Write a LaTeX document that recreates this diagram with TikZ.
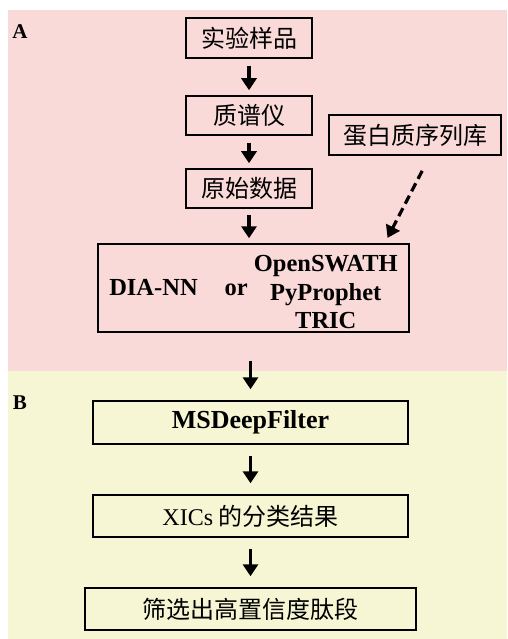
\documentclass[tikz,border=0pt]{standalone}
\usepackage{fontspec}
\setmainfont{Liberation Serif}
\newfontfamily\cjk{Noto Sans CJK SC}
\definecolor{PanelPink}{RGB}{250, 218, 216}
\definecolor{PanelYellow}{RGB}{246, 246, 212}
\usetikzlibrary{arrows.meta, positioning, calc}

\tikzset{
  stepbox/.style={draw, line width=1.5pt, inner sep=0pt, font=\cjk\fontsize{24}{26}\selectfont},
  flow/.style={-{Triangle[width=15pt, length=12pt]}, line width=3.2pt},
  dbflow/.style={flow, dash pattern=on 9pt off 5pt},
  panel/.style={font=\bfseries\fontsize{21}{24}\selectfont}
}

\begin{document}
\begin{tikzpicture}[x=1pt, y=-1pt]
  \useasboundingbox (0,0) rectangle (507,639);

  % Panel backgrounds
  \fill[PanelPink] (8,10) rectangle (507,371);
  \fill[PanelYellow] (8,371) rectangle (507,639);
  \node[panel] (labA) at (20,32) {A};
  \node[panel] (labB) at (20,403) {B};

  % Panel A: acquisition and search
  \node[stepbox, minimum width=126pt, minimum height=40pt] (sample) at (249,38) {实验样品};
  \node[stepbox, minimum width=126pt, minimum height=39pt] (ms) at (249,115.5) {质谱仪};
  \node[stepbox, minimum width=126pt, minimum height=39pt] (raw) at (249,188.5) {原始数据};
  \node[stepbox, minimum width=172pt, minimum height=40pt] (db) at (415,135) {蛋白质序列库};
  \node[stepbox, minimum width=311pt, minimum height=88pt] (tools) at (253.5,288) {};
  \node[font=\bfseries\fontsize{24.5}{28.5}\selectfont, inner sep=0pt] (toolstext) at ([yshift=-6.5pt]tools.center)
    {DIA-NN\hspace{27pt}or\hspace{6pt}\raisebox{-5pt}{\begin{tabular}{@{}c@{}}OpenSWATH\\PyProphet\\TRIC\end{tabular}}};

  \foreach \a/\b in {sample/ms, ms/raw} {
    \draw[flow, shorten <=7pt, shorten >=5pt] (\a) -- (\b);
  }
  \draw[flow, shorten <=6pt, shorten >=5pt] (raw.south) -- (raw.south |- tools.north);
  \draw[dbflow, shorten <=17pt, shorten >=6pt] ([xshift=15pt]db.south) -- ([xshift=-25pt]tools.north east);

  % Panel B: filtering
  \node[stepbox, minimum width=315pt, minimum height=43pt,
        font=\bfseries\fontsize{26}{30}\selectfont] (filter) at (250.5,422.5) {MSDeepFilter};
  \node[stepbox, minimum width=315pt, minimum height=42pt] (xics) at (250.5,516)
    {{\rmfamily XICs} 的分类结果};
  \node[stepbox, minimum width=331pt, minimum height=42pt] (result) at (250.5,609) {筛选出高置信度肽段};

  \draw[flow, shorten <=28pt, shorten >=11pt] (filter.north |- tools.south) -- (filter.north);
  \foreach \a/\b in {filter/xics, xics/result} {
    \draw[flow, shorten <=11pt, shorten >=11pt] (\a) -- (\b);
  }
\end{tikzpicture}
\end{document}
